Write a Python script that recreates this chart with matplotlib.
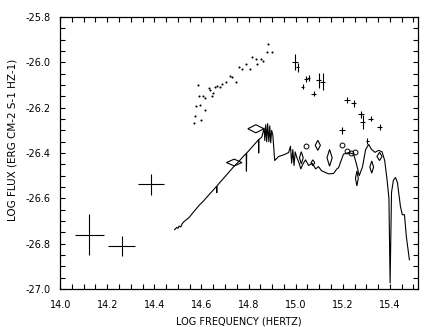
import matplotlib
matplotlib.use("Agg")
import matplotlib.pyplot as plt
from matplotlib.patches import Polygon
from matplotlib.ticker import MultipleLocator, FormatStrFormatter
import numpy as np

plt.rcParams['font.family'] = ['Liberation Sans Narrow', 'DejaVu Sans']

# photometric points (dots)
dot_x = [14.568, 14.571, 14.575, 14.585, 14.589, 14.594, 14.599, 14.606, 14.613, 14.617,
         14.631, 14.637, 14.645, 14.650, 14.657, 14.667, 14.678, 14.686, 14.703, 14.720,
         14.729, 14.746, 14.758, 14.771, 14.788, 14.805, 14.814, 14.831, 14.835, 14.852,
         14.860, 14.877, 14.881, 14.898]
dot_y = [-26.269, -26.237, -26.192, -26.101, -26.148, -26.189, -26.256, -26.148, -26.157, -26.212,
         -26.114, -26.122, -26.148, -26.136, -26.110, -26.104, -26.110, -26.096, -26.088, -26.061,
         -26.065, -26.088, -26.021, -26.030, -26.008, -26.030, -25.977, -25.986, -26.008, -25.986,
         -25.995, -25.955, -25.919, -25.955]

# infrared points with error bars
ir_x = [14.124, 14.261, 14.386]
ir_y = [-26.760, -26.810, -26.538]
ir_xerr = [0.061, 0.056, 0.056]
ir_yerr = [0.091, 0.043, 0.046]

# UV points (crosses)
uv_x = [14.997, 15.008, 15.030, 15.044, 15.055, 15.076, 15.097, 15.114,
        15.217, 15.246, 15.196, 15.277, 15.285, 15.318, 15.356, 15.304]
uv_y = [-25.998, -26.021, -26.107, -26.074, -26.069, -26.138, -26.079, -26.086,
        -26.167, -26.181, -26.300, -26.229, -26.263, -26.248, -26.285, -26.347]
uv_xerr = [0.012, 0.008, 0.006, 0.010, 0.006, 0.010, 0.010, 0.010,
           0.012, 0.012, 0.012, 0.012, 0.010, 0.012, 0.012, 0.006]
uv_yerr = [0.035, 0.020, 0.012, 0.012, 0.012, 0.012, 0.033, 0.037,
           0.012, 0.015, 0.015, 0.015, 0.030, 0.012, 0.015, 0.015]

# open circles
circ_x = [15.044, 15.196, 15.216, 15.234, 15.250]
circ_y = [-26.369, -26.366, -26.392, -26.400, -26.395]

# diamonds: centre, half width, half height
dia_x = [14.831, 14.739, 15.094, 15.144, 15.073, 15.260, 15.323, 15.356, 15.024]
dia_y = [-26.293, -26.442, -26.366, -26.421, -26.443, -26.512, -26.462, -26.415, -26.421]
dia_w = [0.034, 0.033, 0.011, 0.011, 0.008, 0.006, 0.008, 0.011, 0.008]
dia_h = [0.018, 0.015, 0.022, 0.037, 0.013, 0.033, 0.027, 0.018, 0.027]

# model spectrum
spec_x = [14.486, 14.495, 14.500, 14.505, 14.512, 14.518, 14.525, 14.547, 14.568, 14.589,
          14.610, 14.631, 14.653, 14.664, 14.665, 14.666, 14.674, 14.695, 14.716, 14.737,
          14.758, 14.780, 14.790, 14.791, 14.792, 14.801, 14.822, 14.842, 14.843, 14.844,
          14.856, 14.866, 14.869, 14.873, 14.877, 14.881, 14.886, 14.890, 14.894, 14.898,
          14.903, 14.911, 14.928, 14.949, 14.970, 14.978, 14.983, 14.988, 14.993, 14.998,
          15.005, 15.013, 15.022, 15.030, 15.042, 15.055, 15.070, 15.085, 15.097, 15.110,
          15.125, 15.140, 15.161, 15.175, 15.182, 15.203, 15.225, 15.246, 15.258, 15.270,
          15.284, 15.297, 15.310, 15.322, 15.337, 15.352, 15.367, 15.378, 15.388, 15.396,
          15.401, 15.407, 15.415, 15.424, 15.432, 15.445, 15.453, 15.462, 15.470, 15.483]
spec_y = [-26.738, -26.728, -26.732, -26.722, -26.726, -26.712, -26.703, -26.685, -26.658, -26.632,
          -26.610, -26.585, -26.560, -26.547, -26.575, -26.545, -26.535, -26.510, -26.485, -26.460,
          -26.438, -26.412, -26.402, -26.480, -26.400, -26.390, -26.365, -26.342, -26.400, -26.340,
          -26.330, -26.290, -26.345, -26.275, -26.350, -26.270, -26.350, -26.280, -26.355, -26.300,
          -26.320, -26.433, -26.415, -26.408, -26.398, -26.370, -26.445, -26.385, -26.455, -26.395,
          -26.420, -26.440, -26.470, -26.450, -26.430, -26.455, -26.445, -26.470, -26.460, -26.478,
          -26.485, -26.492, -26.490, -26.470, -26.465, -26.405, -26.398, -26.405, -26.448, -26.500,
          -26.460, -26.385, -26.362, -26.384, -26.397, -26.388, -26.395, -26.433, -26.517, -26.600,
          -26.973, -26.574, -26.520, -26.508, -26.530, -26.636, -26.672, -26.672, -26.769, -26.871]

fig = plt.figure(figsize=(4.36, 3.27), dpi=100)
ax = fig.add_axes([0.138, 0.116, 0.821, 0.832])

ax.plot(spec_x, spec_y, color='black', lw=0.8)
ax.plot(dot_x, dot_y, 'o', color='black', ms=1.5, mew=0)
ax.errorbar(ir_x, ir_y, xerr=ir_xerr, yerr=ir_yerr, fmt='none', ecolor='black', elinewidth=0.8, capsize=0)
ax.errorbar(uv_x, uv_y, xerr=uv_xerr, yerr=uv_yerr, fmt='none', ecolor='black', elinewidth=0.8, capsize=0)
ax.plot(circ_x, circ_y, 'o', mfc='none', mec='black', ms=3.5, mew=0.7)

for x, y, w, h in zip(dia_x, dia_y, dia_w, dia_h):
    verts = [(x - w, y), (x, y + h), (x + w, y), (x, y - h)]
    ax.add_patch(Polygon(verts, closed=True, fill=False, ec='black', lw=0.8))

ax.set_xlim(14.0, 15.52)
ax.set_ylim(-27.0, -25.8)
ax.xaxis.set_major_locator(MultipleLocator(0.2))
ax.xaxis.set_minor_locator(MultipleLocator(0.05))
ax.yaxis.set_major_locator(MultipleLocator(0.2))
ax.yaxis.set_minor_locator(MultipleLocator(0.05))
ax.xaxis.set_major_formatter(FormatStrFormatter('%.1f'))
ax.yaxis.set_major_formatter(FormatStrFormatter('%.1f'))
ax.tick_params(which='both', direction='in', top=True, right=True, length=3.5, width=0.8, labelsize=7)
ax.tick_params(axis='x', pad=8)
ax.tick_params(axis='y', pad=7)
for s in ax.spines.values():
    s.set_linewidth(0.9)

ax.set_xlabel('LOG FREQUENCY (HERTZ)', fontsize=7)
ax.xaxis.set_label_coords(0.5, -0.10)
ax.set_ylabel('LOG FLUX (ERG CM-2 S-1 HZ-1)', fontsize=7.5)
ax.yaxis.set_label_coords(-0.12, 0.55)

fig.savefig('out.png', dpi=100)
